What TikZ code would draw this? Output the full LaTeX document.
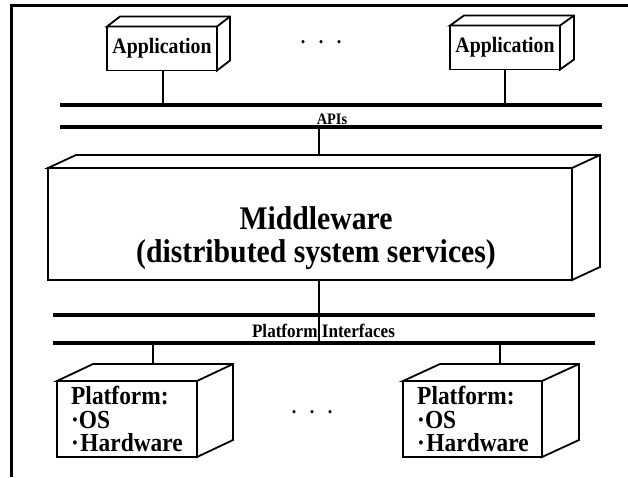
\documentclass[tikz,border=0pt]{standalone}
\usepackage{fontspec}
\setmainfont{Liberation Serif}[FakeStretch=0.9]
\usetikzlibrary{calc}
\tikzset{
  boxline/.style={line width=1.8pt, line join=miter},
  facebox/.style={draw, boxline, fill=white, inner sep=0pt, outer sep=0pt},
  bus/.style={line width=3.5pt},
  conn/.style={line width=1.5pt},
  frameline/.style={line width=3pt},
  apptext/.style={font=\bfseries\fontsize{22pt}{24pt}\selectfont},
  mwtextstyle/.style={font=\bfseries\fontsize{33pt}{33pt}\selectfont, align=center, inner sep=0pt},
  pftext/.style={font=\bfseries\fontsize{26pt}{23.5pt}\selectfont, align=left, inner sep=0pt, anchor=north west},
  buslabel/.style={inner sep=0pt, anchor=base},
  dotstyle/.style={font=\bfseries\fontsize{20pt}{22pt}\selectfont, inner sep=0pt},
}
\newcommand{\boxsides}[3]{%
  \draw[boxline, fill=white] (#1.north west) -- ++(#2,#3) -- ($(#1.north east)+(#2,#3)$) -- ($(#1.south east)+(#2,#3)$) -- (#1.south east) -- (#1.north east) -- cycle;
  \draw[boxline] (#1.north east) -- ++(#2,#3);}
\begin{document}
\begin{tikzpicture}[x=1pt,y=-1pt]
\useasboundingbox (0,0) rectangle (628,477);
% frame
\coordinate (ftl) at (11,5);
\coordinate (ftr) at (628,5);
\coordinate (fbl) at (11,477);
\draw[frameline] (ftr) -- (ftl) -- (fbl);

% bus lines
\coordinate (api1L) at (60,105);  \coordinate (api1R) at (602,105);
\coordinate (api2L) at (60,127);  \coordinate (api2R) at (602,127);
\coordinate (pi1L) at (53,315);   \coordinate (pi1R) at (595,315);
\coordinate (pi2L) at (53,343);   \coordinate (pi2R) at (595,343);
\draw[bus] (api1L) -- (api1R);
\draw[bus] (api2L) -- (api2R);
\draw[bus] (pi1L) -- (pi1R);
\draw[bus] (pi2L) -- (pi2R);
\node[buslabel, font=\bfseries\fontsize{16pt}{18pt}\selectfont] (apilbl) at (332,124) {APIs};
\node[buslabel, font=\bfseries\fontsize{19pt}{20pt}\selectfont] (pilbl) at (323.5,337) {Platform Interfaces};

% applications
\node[facebox, minimum width=110pt, minimum height=44pt, apptext] (app1) at (162,48.5) {Application};
\boxsides{app1}{13}{-10}
\node[facebox, minimum width=110pt, minimum height=44pt, apptext] (app2) at (505,47.5) {Application};
\boxsides{app2}{14}{-10}
\node[dotstyle] (dotsA) at (321,42) {.\hspace{13.5pt}.\hspace{13.5pt}.};

\draw[conn] ($(app1.south)+(1,0)$) coordinate (a1b) -- (a1b |- api1L);
\draw[conn] (app2.south) -- (app2.south |- api1L);

% middleware
\node[facebox, minimum width=524pt, minimum height=112pt] (mw) at (310,224) {};
\boxsides{mw}{28}{-13}
\node[mwtextstyle] (mwtext) at (316,238) {Middleware\\(distributed system services)};
\draw[conn] ($(mw.north)+(9,-13)$) coordinate (mwt) -- (mwt |- api2L);
\draw[conn] ($(mw.south)+(9,0)$) coordinate (mwb) -- (mwb |- pi2L);

% platforms
\node[facebox, minimum width=140pt, minimum height=76pt] (p1) at (127,419) {};
\boxsides{p1}{36}{-17}
\node[facebox, minimum width=139pt, minimum height=76pt] (p2) at (472.5,419) {};
\boxsides{p2}{37}{-17}
\node[pftext] (p1t) at (71,386) {Platform:\\·OS\\·\hspace{1.5pt}Hardware};
\node[pftext] (p2t) at (417,386) {Platform:\\·OS\\·\hspace{1.5pt}Hardware};
\node[dotstyle] (dotsB) at (312,412) {.\hspace{13.5pt}.\hspace{13.5pt}.};

\draw[conn] ($(p1.north)+(26,-17)$) coordinate (p1c) -- (p1c |- pi2L);
\draw[conn] ($(p2.north)+(27.5,-17)$) coordinate (p2c) -- (p2c |- pi2L);
\end{tikzpicture}
\end{document}
